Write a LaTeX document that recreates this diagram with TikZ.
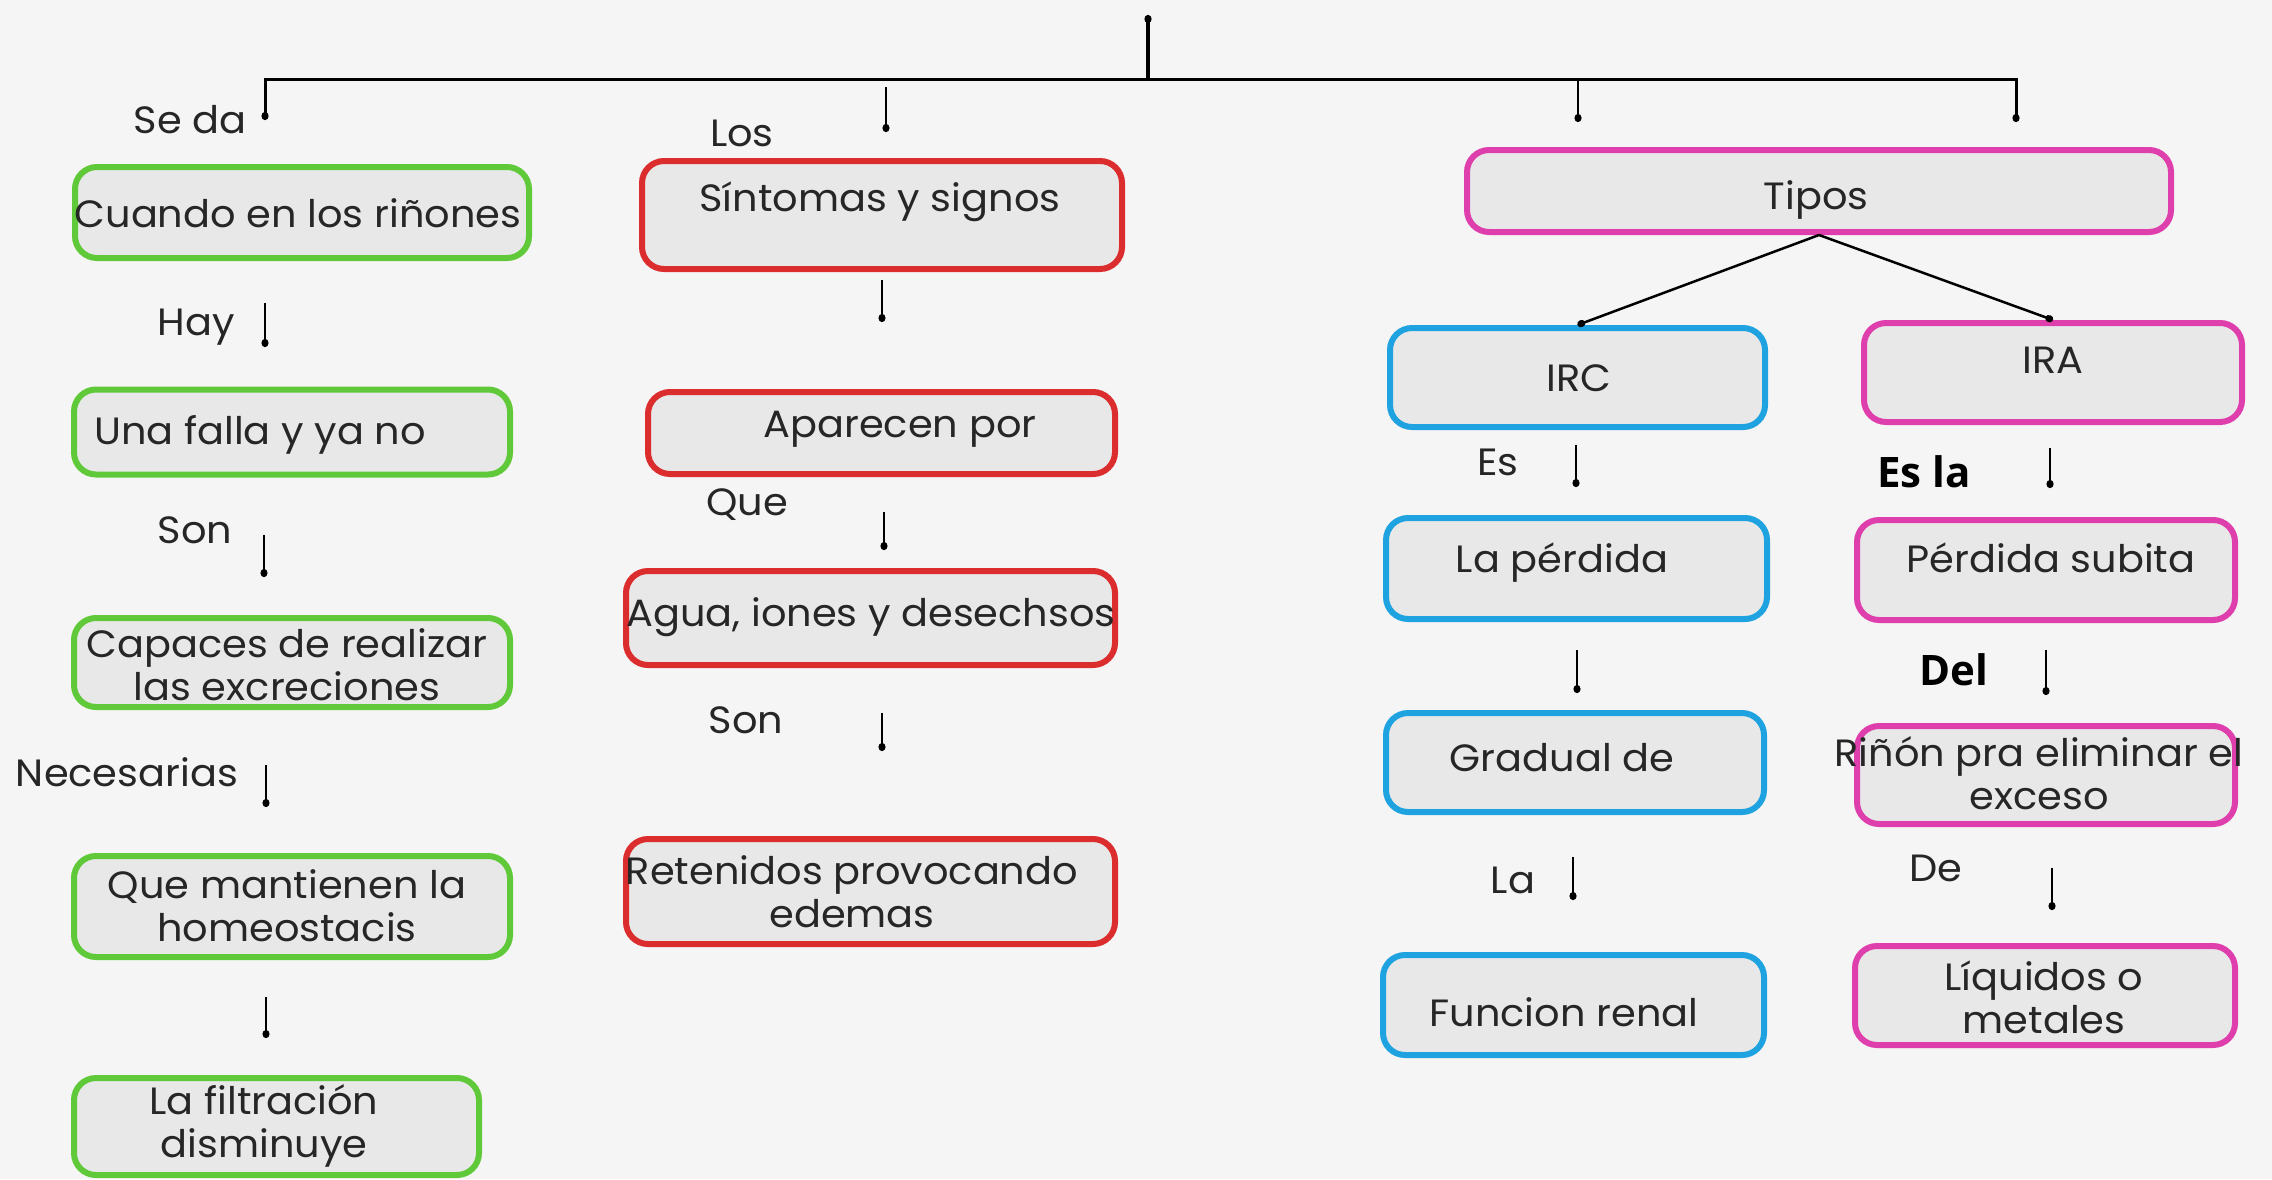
\documentclass[tikz,border=0pt]{standalone}
\usepackage{fontspec}
\setmainfont{Poppins}[FakeStretch=1.05]
\newfontfamily\labbold{Open Sans}
\usetikzlibrary{arrows.meta}
\definecolor{bgc}{HTML}{F5F5F5}
\definecolor{boxfill}{HTML}{E8E8E8}
\definecolor{cgreen}{HTML}{5FC93A}
\definecolor{cred}{HTML}{DB2C2E}
\definecolor{cpink}{HTML}{DF3FAC}
\definecolor{cblue}{HTML}{1FA2E0}
\newcommand\mybox[9]{%
  \node[#2, minimum width={#5-#3-6}, minimum height={#6-#4-6}] (#1) at ({(#3+#5)/2},{(#4+#6)/2}) {};
  \node[txt] (#1t) at (#7,#8) {#9};}
\begin{document}
\begin{tikzpicture}[x=1pt,y=-1pt,
  every node/.style={font=\fontsize{38}{43}\selectfont},
  base/.style={rectangle, rounded corners=22pt, line width=6pt, fill=boxfill, inner sep=0pt},
  gbox/.style={base, draw=cgreen},
  rbox/.style={base, draw=cred},
  pbox/.style={base, draw=cpink},
  bbox/.style={base, draw=cblue},
  txt/.style={inner sep=0pt, align=center, text=black!85},
  lab/.style={inner sep=0pt, text=black!85},
  blab/.style={inner sep=0pt, text=black, font=\labbold\bfseries\fontsize{42}{46}\selectfont},
  conn/.style={line width=2.5pt, -{Circle[length=8pt,width=7pt]}},
  trunk/.style={line width=3pt}]
\fill[bgc] (0,0) rectangle (2272,1179);
\useasboundingbox (0,0) rectangle (2272,1179);

% ---------- top tree ----------
\coordinate (root) at (1148,15);
\coordinate (hub) at (1148,79);
\coordinate (d1) at (265,120);
\coordinate (d2s) at (886,87);
\coordinate (d2) at (886,132);
\coordinate (d3s) at (1578,79);
\coordinate (d3) at (1578,122);
\coordinate (d4) at (2016,122);
\draw[line width=3.5pt, -{Circle[length=8pt,width=7pt]}] (hub) -- (root);
\draw[trunk, -{Circle[length=8pt,width=7pt]}] (hub) -| (d1);
\draw[trunk, -{Circle[length=8pt,width=7pt]}] (hub) -| (d4);
\draw[conn] (d2s) -- (d2);
\draw[conn] (d3s) -- (d3);

% ---------- left column ----------
\node[lab] (lseda) at (190,120) {Se da};
\mybox{b1}{gbox}{72}{164}{532}{261}{298}{213}{Cuando en los riñones}
\node[lab] (lhay) at (196,327) {Hay};
\coordinate (a1s) at (265,303); \coordinate (a1e) at (265,347);
\draw[conn] (a1s) -- (a1e);
\node[base, draw=cgreen, minimum width=436, minimum height=85] (b2) at (292,432) {};
\node[txt, anchor=west] (b2t) at (94,435) {Una falla y ya no};
\node[lab] (lson1) at (195,530) {Son};
\coordinate (a2s) at (264,535); \coordinate (a2e) at (264,577);
\draw[conn] (a2s) -- (a2e);
\mybox{b3}{gbox}{71}{615}{513}{710}{287}{665}{Capaces de realizar\\las excreciones}
\node[lab] (lnec) at (127,772) {Necesarias};
\coordinate (a3s) at (266,765); \coordinate (a3e) at (266,807);
\draw[conn] (a3s) -- (a3e);
\mybox{b4}{gbox}{71}{853}{513}{960}{287}{906}{Que mantienen la\\homeostacis}
\coordinate (a4s) at (266,997); \coordinate (a4e) at (266,1038);
\draw[conn] (a4s) -- (a4e);
\mybox{b5}{gbox}{71}{1075}{482}{1178}{264}{1126}{La filtración\\disminuye}

% ---------- middle column ----------
\node[lab] (llos) at (742,133) {Los};
\mybox{b6}{rbox}{639}{158}{1125}{272}{880}{202}{Síntomas y signos}
\coordinate (a5s) at (882,280); \coordinate (a5e) at (882,322);
\draw[conn] (a5s) -- (a5e);
\mybox{b7}{rbox}{645}{389}{1118}{477}{900}{429}{Aparecen por}
\node[lab] (lque) at (747,505) {Que};
\coordinate (a6s) at (884,512); \coordinate (a6e) at (884,550);
\draw[conn] (a6s) -- (a6e);
\mybox{b8}{rbox}{623}{568}{1118}{668}{871}{617}{Agua, iones y desechsos}
\node[lab] (lson2) at (746,720) {Son};
\coordinate (a7s) at (882,713); \coordinate (a7e) at (882,751);
\draw[conn] (a7s) -- (a7e);
\mybox{b9}{rbox}{623}{836}{1118}{947}{852}{892}{Retenidos provocando\\edemas}

% ---------- right part ----------
\mybox{b10}{pbox}{1464}{147}{2174}{235}{1816}{200}{Tipos}
\mybox{b11}{bbox}{1387}{325}{1768}{430}{1579}{378}{IRC}
\mybox{b12}{pbox}{1861}{320}{2245}{425}{2053}{360}{IRA}
\draw[conn] (b10.south) -- (b11.north);
\draw[conn] (b10.south) -- (b12.north);

\node[lab] (les) at (1498,462) {Es};
\coordinate (a8s) at (1576,445); \coordinate (a8e) at (1576,487);
\draw[conn] (a8s) -- (a8e);
\node[blab] (lesla) at (1924,472) {Es la};
\coordinate (a9s) at (2050,448); \coordinate (a9e) at (2050,488);
\draw[conn] (a9s) -- (a9e);

\mybox{b13}{bbox}{1383}{515}{1770}{622}{1562}{563}{La pérdida}
\mybox{b14}{pbox}{1854}{517}{2238}{623}{2051}{558}{Pérdida subita}

\coordinate (a10s) at (1577,650); \coordinate (a10e) at (1577,693);
\draw[conn] (a10s) -- (a10e);
\node[blab] (ldel) at (1954,670) {Del};
\coordinate (a11s) at (2046,650); \coordinate (a11e) at (2046,695);
\draw[conn] (a11s) -- (a11e);

\mybox{b15}{bbox}{1383}{710}{1767}{815}{1562}{758}{Gradual de}
\mybox{b16}{pbox}{1854}{723}{2238}{827}{2039}{773}{Riñón pra eliminar el\\exceso}

\node[lab] (lla) at (1513,880) {La};
\coordinate (a12s) at (1573,857); \coordinate (a12e) at (1573,900);
\draw[conn] (a12s) -- (a12e);
\node[lab] (lde) at (1936,868) {De};
\coordinate (a13s) at (2052,868); \coordinate (a13e) at (2052,910);
\draw[conn] (a13s) -- (a13e);

\mybox{b17}{bbox}{1380}{952}{1767}{1058}{1564}{1012}{Funcion renal}
\mybox{b18}{pbox}{1852}{943}{2238}{1048}{2044}{997}{Líquidos o\\metales}
\end{tikzpicture}
\end{document}
